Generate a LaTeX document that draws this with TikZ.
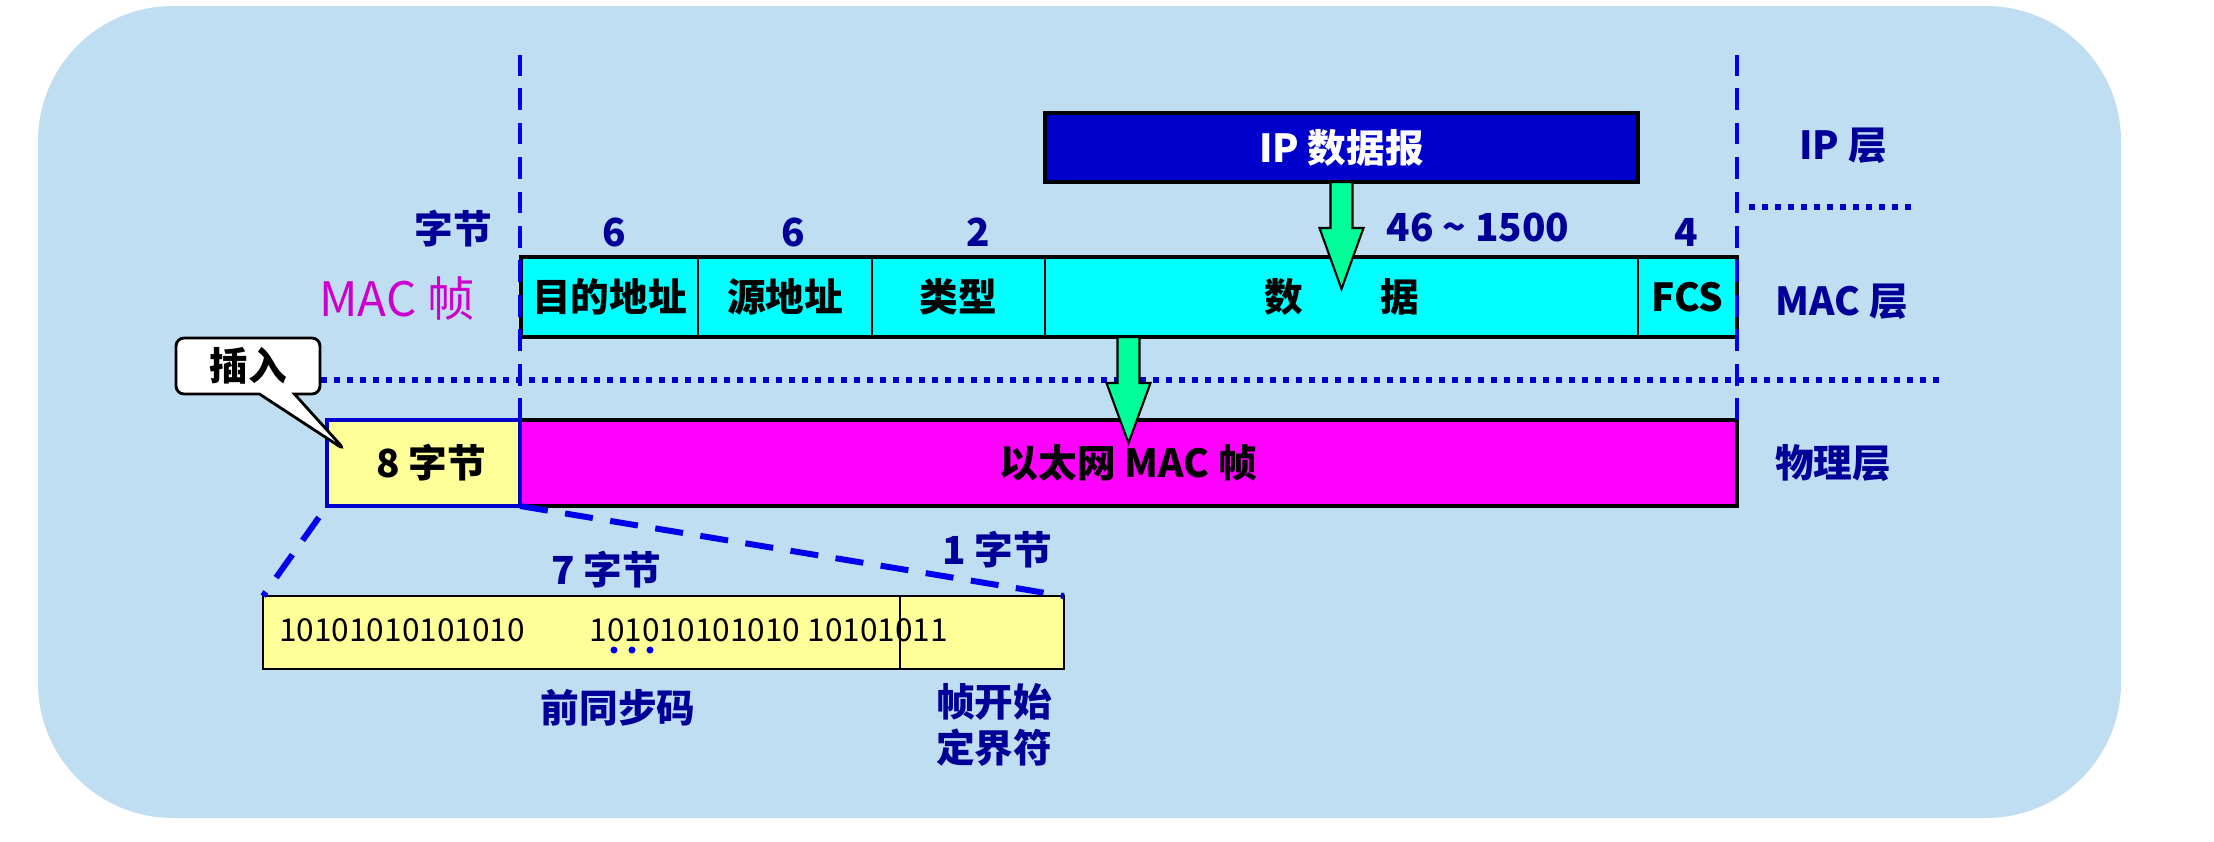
\documentclass[tikz,border=0pt]{standalone}
\usepackage{fontspec}
\setmainfont{Noto Sans CJK SC}
\usetikzlibrary{positioning,calc,shapes.callouts}

\definecolor{bgblue}{RGB}{191,222,242}
\definecolor{navy}{RGB}{0,0,153}
\definecolor{ipblue}{RGB}{0,0,204}
\definecolor{lineblue}{RGB}{0,0,238}
\definecolor{macpink}{RGB}{204,0,204}
\definecolor{cellcyan}{RGB}{0,255,255}
\definecolor{framepink}{RGB}{255,0,255}
\definecolor{paleyellow}{RGB}{255,255,153}
\definecolor{springgreen}{RGB}{0,255,153}

\begin{document}
\begin{tikzpicture}[x=0.1mm, y=-0.1mm,
    font=\fontsize{11pt}{13pt}\selectfont\bfseries,
    cell/.style={draw=black, line width=0.6pt, fill=cellcyan, inner sep=0pt,
                 outer sep=0pt, minimum height=8mm},
    bar/.style={line width=1.2pt, inner sep=0pt, outer sep=0pt, minimum height=8.6mm},
    tag/.style={text=navy, inner sep=1pt},
    layer/.style={text=navy, inner sep=1pt},
    layerline/.style={lineblue, line width=1.1pt, dash pattern=on 6.2pt off 3.6pt},
    sepline/.style={ipblue, line width=1.7pt, dash pattern=on 1.7pt off 2pt},
    zoomline/.style={lineblue, line width=1.7pt, dash pattern=on 8pt off 5pt},
    fatarrow/.style={draw=black, line width=0.6pt, fill=springgreen},
    bits/.style={inner sep=0pt, font=\fontsize{9pt}{11pt}\selectfont}]
  \useasboundingbox (0,0) rectangle (2214,842);
  \fill[bgblue, rounded corners=13.5mm] (38,6) rectangle (2121,818);

  % MAC frame
  \node[cell, minimum width=17.7mm] (dst) at (609.5,297) {目的地址};
  \node[cell, minimum width=17.4mm, right=0pt of dst] (src) {源地址};
  \node[cell, minimum width=17.3mm, right=0pt of src] (kind) {类型};
  \node[cell, minimum width=59.3mm, right=0pt of kind] (data) {数\hspace{2em}据};
  \node[cell, minimum width=9.9mm, right=0pt of data] (fcs) {FCS};
  \draw[line width=1.2pt] (dst.north west) rectangle (fcs.south east);

  \node[bar, draw=black, fill=ipblue, text=white, minimum width=59.3mm,
        minimum height=6.9mm, above=7.5mm of data] (ipbox) {IP 数据报};

  % physical layer
  \node[bar, draw=black, fill=framepink, minimum width=121.7mm] (ether)
        at (1128.5,463) {以太网 MAC 帧};
  \node[bar, draw=ipblue, fill=paleyellow, minimum width=19.3mm,
        left=0pt of ether] (pre) {\hspace*{1.5mm}8 字节};

  % layer borders
  \draw[layerline] (pre.north east) -- ++(0,-365);
  \draw[layerline] (ether.north east) -- ++(0,-365);
  \draw[sepline] (321,380) -- (1942,380);
  \draw[sepline] (1749,207) -- (1914,207);

  % byte counts
  \node[tag] (bytes) at (453,229) {字节};
  \node[tag] (n1) at (614,232) {6};
  \node[tag] (n2) at (793,232) {6};
  \node[tag] (n3) at (978,232) {2};
  \node[tag] (n4) at (1478,227) {46 \textasciitilde\ 1500};
  \node[tag] (n5) at (1686,232) {4};
  \node[inner sep=1pt, text=macpink, font=\fontsize{13.5pt}{15pt}\selectfont]
        (macframe) at (397,299) {MAC 帧};

  \node[layer] (iplab) at (1843,146) {IP 层};
  \node[layer] (maclab) at (1842,302) {MAC 层};
  \node[layer] (phylab) at (1833,463) {物理层};

  % green arrows
  \draw[fatarrow] ($(ipbox.south)+(-11,0)$) -- ++(0,46) -- ++(-11,0)
        -- ($(ipbox.south)+(0,107)$) -- ($(ipbox.south)+(22,46)$) -- ++(-11,0)
        -- ($(ipbox.south)+(11,0)$) -- cycle;
  \coordinate (drop) at (data.south -| ether.north);
  \draw[fatarrow] ($(drop)+(-11,0)$) -- ++(0,46) -- ++(-11,0)
        -- ($(drop)+(0,106)$) -- ($(drop)+(22,46)$) -- ++(-11,0)
        -- ($(drop)+(11,0)$) -- cycle;

  % insert callout
  \coordinate (tip) at (345,450);
  \node[rectangle callout, draw=black, line width=0.8pt, fill=white,
        rounded corners=2.3pt, minimum width=14.4mm, minimum height=5.6mm,
        inner sep=0pt, callout absolute pointer={(tip)},
        callout pointer width=3.5mm] (ins) at (248,366) {插入};

  % preamble
  \node[draw=black, line width=0.8pt, fill=paleyellow, inner sep=0pt, outer sep=0pt,
        minimum width=63.7mm, minimum height=7.3mm] (sync) at (581.5,632.5) {};
  \node[draw=black, line width=0.8pt, fill=paleyellow, inner sep=0pt, outer sep=0pt,
        minimum width=16.4mm, minimum height=7.3mm, right=0pt of sync] (sfd) {};
  \draw[zoomline, shorten <=4pt] (pre.south west) -- (sync.north west);
  \draw[zoomline] (pre.south east) -- (sfd.north east);

  \node[bits] (bitsa) at (402,630) {10101010101010};
  \node[bits, anchor=west] (bitsb) at (589,630) {101010101010 10101011};
  \foreach \dx in {0,18,36}
    \fill[lineblue] ($(bitsb.west)+(25+\dx,20)$) circle (1pt);

  \node[tag] (seven) at (606,570) {7 字节};
  \node[tag] (one) at (997,550) {1 字节};
  \node[tag] (prelab) at (618,708) {前同步码};
  \node[tag, align=center] (sfdlab) at (994,725) {帧开始\\定界符};
\end{tikzpicture}
\end{document}
